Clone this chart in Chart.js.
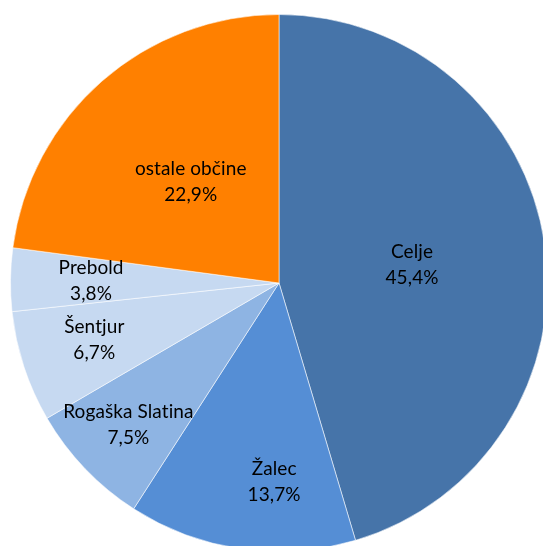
<!DOCTYPE html>
<html>
<head>
<meta charset="utf-8">
<script src="https://cdn.jsdelivr.net/npm/chart.js@4.4.1/dist/chart.umd.min.js"></script>
<style>
  html, body { margin: 0; padding: 0; background: #fff; overflow: hidden; width: 543px; height: 546px; }
  #pie { position: absolute; left: 10px; top: 14px; }
</style>
</head>
<body>
<canvas id="pie" width="538" height="538"></canvas>
<script>
// municipalities and their share (%)
const municipalities = ['Celje', 'Žalec', 'Rogaška Slatina', 'Šentjur', 'Prebold', 'ostale občine'];
const shares = [45.4, 13.7, 7.5, 6.7, 3.8, 22.9];
const shareLabels = ['45,4%', '13,7%', '7,5%', '6,7%', '3,8%', '22,9%'];

const sliceColors = ['#4674A9', '#558ED5', '#8EB4E3', '#C6D9F1', '#C6D9F1', '#FF8000'];

// where each label sits: fraction of radius + small angle shift (degrees)
const labelPlace = [
    { r: 0.50, shift: 0.6 },
    { r: 0.74, shift: -6.7 },
    { r: 0.77, shift: 0.5 },
    { r: 0.72, shift: 1.0 },
    { r: 0.70, shift: -0.1 },
    { r: 0.50, shift: 0.1 }
];

const labelPlugin = {
    id: 'sliceLabels',
    afterDatasetsDraw(chart) {
        const ctx = chart.ctx;
        const arcs = chart.getDatasetMeta(0).data;
        ctx.save();
        ctx.font = '19px Lato, "Open Sans", sans-serif';
        ctx.letterSpacing = '0.1px'; // stops the "ti" ligature
        ctx.fillStyle = '#000';
        ctx.textAlign = 'center';
        ctx.textBaseline = 'middle';
        arcs.forEach(function(arc, i) {
            let p = arc.getProps(['x', 'y', 'startAngle', 'endAngle', 'outerRadius'], true);
            let mid = (p.startAngle + p.endAngle) / 2 + labelPlace[i].shift * Math.PI / 180;
            let rad = p.outerRadius * labelPlace[i].r;
            let x = p.x + Math.cos(mid) * rad;
            let y = p.y + Math.sin(mid) * rad;
            ctx.fillText(municipalities[i], x, y - 13);
            ctx.fillText(shareLabels[i], x, y + 13);
        });
        ctx.restore();
    }
};

new Chart(document.getElementById('pie').getContext('2d'), {
    type: 'pie',
    data: {
        labels: municipalities,
        datasets: [{
            data: shares,
            backgroundColor: sliceColors,
            borderColor: 'rgba(255,255,255,0.55)',
            borderWidth: 1
        }]
    },
    options: {
        responsive: false,
        animation: false,
        layout: { padding: 0 },
        plugins: {
            legend: { display: false },
            tooltip: { enabled: false }
        }
    },
    plugins: [labelPlugin]
});
</script>
</body>
</html>
